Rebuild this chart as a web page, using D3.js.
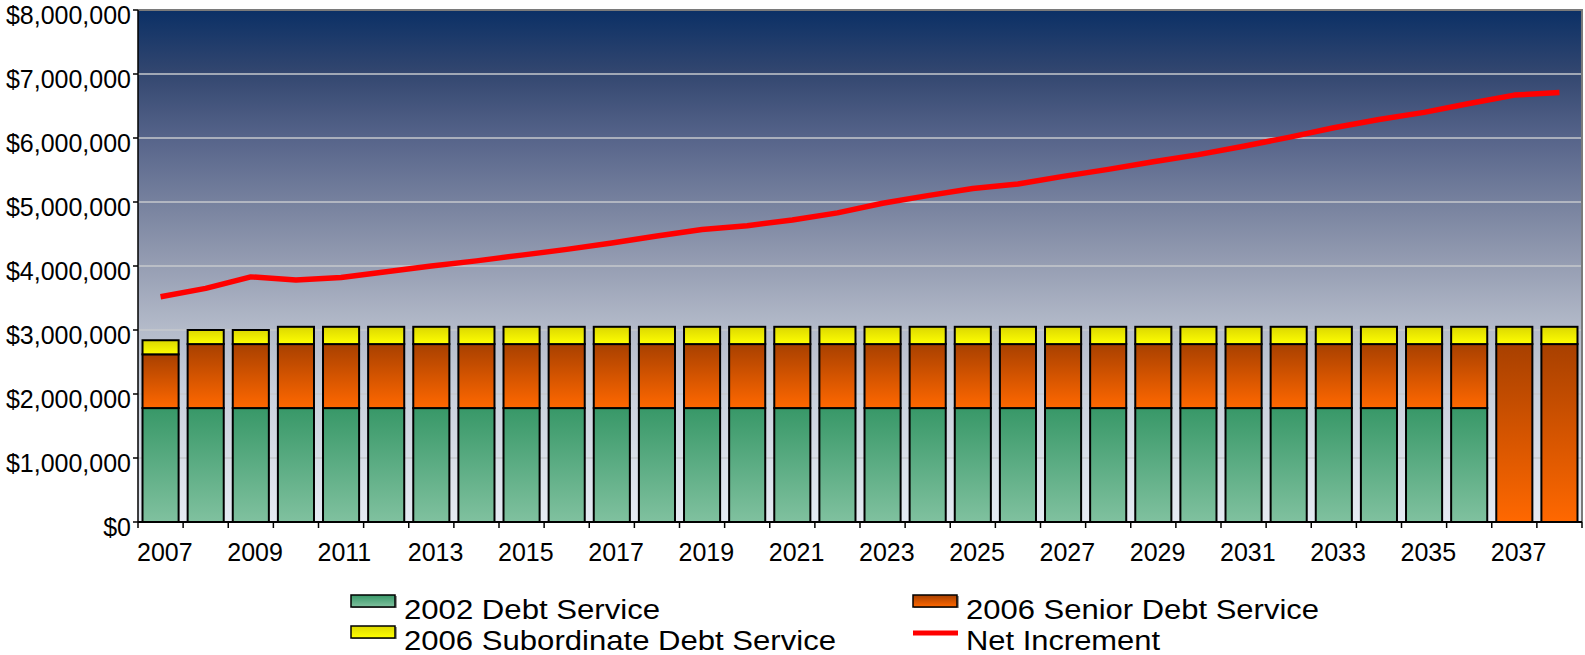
<!DOCTYPE html>
<html>
<head>
<meta charset="utf-8">
<script src="https://cdn.jsdelivr.net/npm/d3@7/dist/d3.min.js"></script>
<style>
  html, body { margin: 0; padding: 0; background: #fff; }
  svg { display: block; font-family: "Liberation Sans", Arial, sans-serif; }
</style>
</head>
<body>
<svg id="chart" width="1585" height="655"></svg>
<script>
// Fiscal years
const years = d3.range(2007, 2039);

// Annual debt service by issue (dollars)
const debt2002 = [
  1780000, 1780000, 1780000, 1780000, 1780000, 1780000, 1780000, 1780000,
  1780000, 1780000, 1780000, 1780000, 1780000, 1780000, 1780000, 1780000,
  1780000, 1780000, 1780000, 1780000, 1780000, 1780000, 1780000, 1780000,
  1780000, 1780000, 1780000, 1780000, 1780000, 1780000, 0, 0
];
const senior2006 = [
  840000, 1000000, 1000000, 1000000, 1000000, 1000000, 1000000, 1000000,
  1000000, 1000000, 1000000, 1000000, 1000000, 1000000, 1000000, 1000000,
  1000000, 1000000, 1000000, 1000000, 1000000, 1000000, 1000000, 1000000,
  1000000, 1000000, 1000000, 1000000, 1000000, 1000000, 2780000, 2780000
];
const subordinate2006 = [
  220000, 220000, 220000, 270000, 270000, 270000, 270000, 270000,
  270000, 270000, 270000, 270000, 270000, 270000, 270000, 270000,
  270000, 270000, 270000, 270000, 270000, 270000, 270000, 270000,
  270000, 270000, 270000, 270000, 270000, 270000, 270000, 270000
];

// Net tax increment revenue (dollars)
const netIncrement = [
  3520000, 3650000, 3830000, 3780000, 3820000, 3910000, 4000000, 4080000,
  4170000, 4260000, 4360000, 4470000, 4570000, 4630000, 4720000, 4830000,
  4980000, 5100000, 5210000, 5280000, 5400000, 5510000, 5630000, 5740000,
  5870000, 6010000, 6160000, 6290000, 6400000, 6540000, 6670000, 6710000
];

const yTicks = [0, 1000000, 2000000, 3000000, 4000000, 5000000, 6000000, 7000000, 8000000];
const xLabelYears = years.filter(y => y % 2 === 1);

const seriesKeys = ["debt2002", "senior2006", "subordinate2006"];
const seriesNames = {
  debt2002: "2002 Debt Service",
  senior2006: "2006 Senior Debt Service",
  subordinate2006: "2006 Subordinate Debt Service"
};
const lineName = "Net Increment";

const rows = years.map((yr, i) => ({
  year: yr,
  debt2002: debt2002[i],
  senior2006: senior2006[i],
  subordinate2006: subordinate2006[i],
  net: netIncrement[i]
}));

const svg = d3.select("#chart");
const plot = { left: 138, right: 1582, top: 10, bottom: 522 };

const x = d3.scaleBand()
  .domain(years)
  .range([plot.left, plot.right])
  .paddingInner(0.2)
  .paddingOuter(0.1);

const y = d3.scaleLinear()
  .domain([0, 8000000])
  .range([plot.bottom, plot.top]);

const defs = svg.append("defs");

// Plot background: deep navy at the top fading to pale grey-blue
const bg = defs.append("linearGradient")
  .attr("id", "bgGrad").attr("x1", 0).attr("y1", 0).attr("x2", 0).attr("y2", 1);
[
  [0, "#0b3066"], [0.12, "#32466f"], [0.25, "#56648a"], [0.4, "#7d87a2"],
  [0.5, "#969eb3"], [0.62, "#b3bac9"], [0.75, "#c9d0db"], [1, "#e6ebf3"]
].forEach(([o, c]) => bg.append("stop").attr("offset", o).attr("stop-color", c));

// Per-series vertical fills
const fills = {
  debt2002: ["#389868", "#80c19f"],
  senior2006: ["#a84000", "#ff6800"],
  subordinate2006: ["#dcd800", "#ffff00"]
};
Object.entries(fills).forEach(([k, [top, bot]]) => {
  const g = defs.append("linearGradient")
    .attr("id", "grad-" + k).attr("x1", 0).attr("y1", 0).attr("x2", 0).attr("y2", 1);
  g.append("stop").attr("offset", 0).attr("stop-color", top);
  g.append("stop").attr("offset", 1).attr("stop-color", bot);
});

// Background
svg.append("rect")
  .attr("x", plot.left).attr("y", plot.top)
  .attr("width", plot.right - plot.left).attr("height", plot.bottom - plot.top)
  .attr("fill", "url(#bgGrad)");

// Horizontal gridlines
svg.append("g").selectAll("line")
  .data(yTicks.filter(t => t > 0 && t < 8000000))
  .join("line")
  .attr("x1", plot.left).attr("x2", plot.right)
  .attr("y1", d => y(d)).attr("y2", d => y(d))
  .attr("stroke", "#c6c8cc").attr("stroke-width", 1.5);

// Frame: grey top and right edges
svg.append("path")
  .attr("d", `M${plot.left},${plot.top}H${plot.right}V${plot.bottom}`)
  .attr("fill", "none").attr("stroke", "#7a7a7a").attr("stroke-width", 2);

// Stacked bars
const stack = d3.stack().keys(seriesKeys)(rows);
const barG = svg.append("g");
stack.forEach(layer => {
  barG.append("g").selectAll("rect")
    .data(layer.filter(d => d[1] - d[0] > 0))
    .join("rect")
    .attr("x", d => x(d.data.year))
    .attr("width", x.bandwidth())
    .attr("y", d => y(d[1]))
    .attr("height", d => y(d[0]) - y(d[1]))
    .attr("fill", `url(#grad-${layer.key})`)
    .attr("stroke", "#000")
    .attr("stroke-width", 2);
});

// Net increment line
const line = d3.line()
  .x(d => x(d.year) + x.bandwidth() / 2)
  .y(d => y(d.net));
svg.append("path")
  .datum(rows)
  .attr("d", line)
  .attr("fill", "none")
  .attr("stroke", "#ff0000")
  .attr("stroke-width", 5.5)
  .attr("stroke-linejoin", "round")
  .attr("stroke-linecap", "butt");

// Y axis
const yAxis = svg.append("g").attr("transform", `translate(${plot.left},0)`);
yAxis.append("line")
  .attr("x1", 0).attr("x2", 0).attr("y1", plot.top).attr("y2", plot.bottom)
  .attr("stroke", "#000").attr("stroke-width", 1.5);
const fmt = d3.format("$,");
yAxis.selectAll("g.tick")
  .data(yTicks)
  .join("g").attr("class", "tick")
  .attr("transform", d => `translate(0,${y(d)})`)
  .each(function (d) {
    const g = d3.select(this);
    g.append("line").attr("x1", -5).attr("x2", 0).attr("stroke", "#000").attr("stroke-width", 1.5);
    g.append("text")
      .attr("x", -7).attr("y", 13.5)
      .attr("text-anchor", "end")
      .attr("font-size", 25)
      .attr("fill", "#000")
      .text(fmt(d));
  });

// X axis
const xAxis = svg.append("g");
xAxis.append("line")
  .attr("x1", plot.left).attr("x2", plot.right)
  .attr("y1", plot.bottom).attr("y2", plot.bottom)
  .attr("stroke", "#000").attr("stroke-width", 2);
const step = x.step();
const boundaries = years.map(yr => x(yr) - step * x.paddingInner() / 2).concat([plot.right]);
xAxis.selectAll("line.tick")
  .data(boundaries)
  .join("line").attr("class", "tick")
  .attr("x1", d => d).attr("x2", d => d)
  .attr("y1", plot.bottom).attr("y2", plot.bottom + 6)
  .attr("stroke", "#000").attr("stroke-width", 1.5);
xAxis.selectAll("text")
  .data(xLabelYears)
  .join("text")
  .attr("x", d => x(d) - step * x.paddingInner() / 2 - 1)
  .attr("y", 561)
  .attr("font-size", 25)
  .attr("fill", "#000")
  .text(d => d);

// Legend (two columns, two rows)
const legendItems = [
  { key: "debt2002", col: 0, row: 0, width: 256 },
  { key: "senior2006", col: 1, row: 0, width: 353 },
  { key: "subordinate2006", col: 0, row: 1, width: 432 },
  { key: "net", col: 1, row: 1, width: 194 }
];
const legend = svg.append("g");
const colX = [351, 913];
const rowY = [601, 632];
legendItems.forEach(it => {
  const g = legend.append("g").attr("transform", `translate(${colX[it.col]},${rowY[it.row]})`);
  if (it.key === "net") {
    g.append("line").attr("x1", 0).attr("x2", 45).attr("y1", 1).attr("y2", 1)
      .attr("stroke", "#ff0000").attr("stroke-width", 5);
  } else {
    g.append("rect").attr("x", 1).attr("y", -5).attr("width", 45).attr("height", 12)
      .attr("fill", "#9a9a9a");
    g.append("rect").attr("x", 0).attr("y", -6).attr("width", 44).attr("height", 12)
      .attr("fill", `url(#grad-${it.key})`).attr("stroke", "#000").attr("stroke-width", 1.5);
  }
  g.append("text")
    .attr("x", 53).attr("y", 18)
    .attr("font-size", 27.5)
    .attr("textLength", it.width)
    .attr("lengthAdjust", "spacingAndGlyphs")
    .attr("fill", "#000")
    .text(it.key === "net" ? lineName : seriesNames[it.key]);
});
</script>
</body>
</html>
